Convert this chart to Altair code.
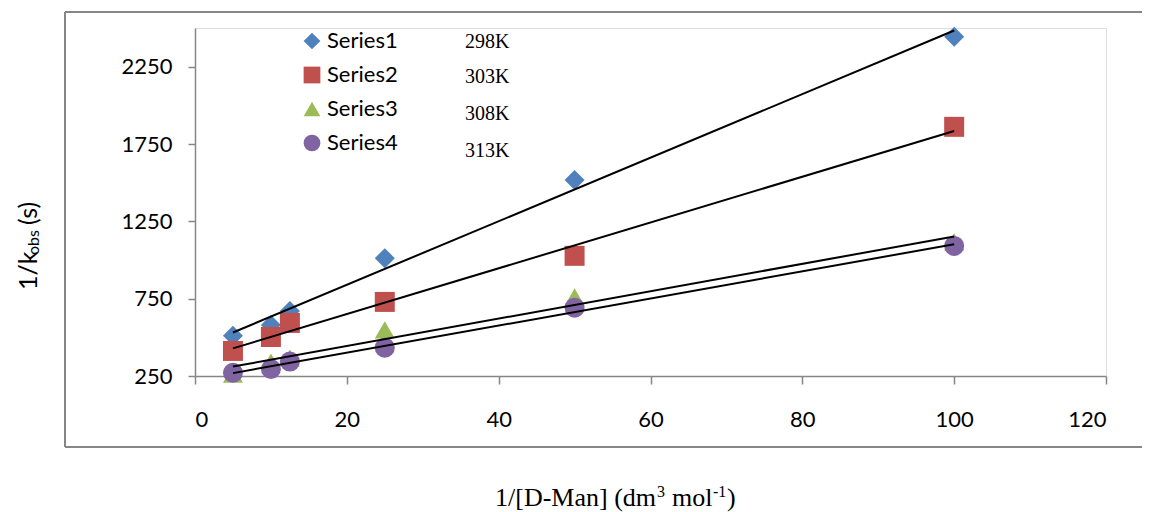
import altair as alt
import pandas as pd

# ---- data ----
x_vals = [5, 10, 12.5, 25, 50, 100]
series1 = [510, 580, 670, 1012, 1518, 2444]
series2 = [412, 502, 593, 729, 1027, 1861]
series3 = [262, 340, 366, 548, 761, 1117]
series4 = [271, 295, 343, 433, 692, 1091]
series_names = ["Series1", "Series2", "Series3", "Series4"]
temps = ["298K", "303K", "308K", "313K"]
colors = ["#4F81BD", "#C0504D", "#9BBB59", "#8064A2"]
shapes = ["diamond", "square", "triangle-up", "circle"]
y_ticks = [250, 750, 1250, 1750, 2250]
x_ticks = [0, 20, 40, 60, 80, 100, 120]

rows = []
for name, vals in zip(series_names, [series1, series2, series3, series4]):
    for xv, yv in zip(x_vals, vals):
        rows.append({"x": xv, "y": yv, "series": name})
df = pd.DataFrame(rows)

W, H = 911, 348
PAD_L, PAD_T, PAD_R, PAD_B = 187, 20, 37, 136

xscale = alt.Scale(domain=[0, 120], nice=False, zero=False)
yscale = alt.Scale(domain=[250, 2500], nice=False, zero=False)

xaxis = alt.Axis(values=x_ticks, title=None, grid=False, tickSize=8, tickColor="#868686",
                 domainColor="#868686", domainWidth=1.5, tickWidth=1.5, labelFontSize=22,
                 labelFont="Lato", labelColor="#000000", labelPadding=25, format="d")
yaxis = alt.Axis(values=y_ticks, title=None, grid=False, tickSize=7, tickColor="#868686",
                 domainColor="#868686", domainWidth=1.5, tickWidth=1.5, labelFontSize=22,
                 labelFont="Lato", labelColor="#000000", labelPadding=16, format="d")

color_enc = alt.Color("series:N", scale=alt.Scale(domain=series_names, range=colors),
                      legend=alt.Legend(title=None, orient="none", legendX=106, legendY=2,
                                        labelFont="Lato", labelFontSize=22, labelColor="#000000",
                                        symbolSize=280, symbolStrokeWidth=0, rowPadding=12,
                                        labelOffset=4, padding=0, symbolOpacity=1))
shape_enc = alt.Shape("series:N", scale=alt.Scale(domain=series_names, range=shapes))

base = alt.Chart(df)

points = base.mark_point(filled=True, size=400, opacity=1).encode(
    x=alt.X("x:Q", scale=xscale, axis=xaxis),
    y=alt.Y("y:Q", scale=yscale, axis=yaxis),
    color=color_enc,
    shape=shape_enc,
)

lines = base.transform_regression("x", "y", groupby=["series"], extent=[5, 100]).mark_line(
    color="black", strokeWidth=2
).encode(
    x=alt.X("x:Q", scale=xscale),
    y=alt.Y("y:Q", scale=yscale),
    detail="series:N",
)

one = pd.DataFrame({"a": [0]})
FR_L, FR_R, FR_T, FR_B = -130, W + PAD_R - 1, -16, 419
frame_style = dict(color="#868686", strokeWidth=2)
frame_left = alt.Chart(one).mark_rule(**frame_style).encode(
    x=alt.value(FR_L), y=alt.value(FR_T), y2=alt.value(FR_B))
frame_top = alt.Chart(one).mark_rule(**frame_style).encode(
    x=alt.value(FR_L), x2=alt.value(FR_R), y=alt.value(FR_T))
frame_bottom = alt.Chart(one).mark_rule(**frame_style).encode(
    x=alt.value(FR_L), x2=alt.value(FR_R), y=alt.value(FR_B))

layers = [frame_left, frame_top, frame_bottom, points, lines]

# temperature labels next to the legend
temp_y = [14, 49, 86, 123]
for t, ty in zip(temps, temp_y):
    layers.append(alt.Chart(one).mark_text(
        text=t, font="Liberation Serif", fontSize=20, align="left", baseline="middle", color="#000000"
    ).encode(x=alt.value(270), y=alt.value(ty)))

# y-axis title: 1/k_obs (s) composed of parts
def ytxt(s, size, xv, yv):
    return alt.Chart(one).mark_text(
        text=s, font="Lato", fontSize=size, angle=270, align="left", baseline="middle", color="#000000"
    ).encode(x=alt.value(xv), y=alt.value(yv))

layers.append(ytxt("1/k", 25, -166, 262))
layers.append(ytxt("obs", 16, -161, 227))
layers.append(ytxt("(s)", 25, -166, 197))

# x-axis title composed of parts (superscripts)
def xtxt(s, size, xv, yv):
    return alt.Chart(one).mark_text(
        text=s, font="Liberation Serif", fontSize=size, align="left", baseline="alphabetic", color="#000000"
    ).encode(x=alt.value(xv), y=alt.value(yv))

XB = 478
layers.append(xtxt("1/[D-Man] (dm", 26, 300, XB))
layers.append(xtxt("3", 16, 462, XB - 9))
layers.append(xtxt("mol", 26, 477, XB))
layers.append(xtxt("-1", 16, 518, XB - 9))
layers.append(xtxt(")", 26, 532, XB))

chart = alt.layer(*layers).properties(
    width=W, height=H,
    autosize=alt.AutoSizeParams(type="none"),
    padding={"left": PAD_L, "top": PAD_T, "right": PAD_R, "bottom": PAD_B},
).configure_view(stroke=None).configure(background="white")

chart.save("out.html", embed_options={"renderer": "svg", "actions": False})
